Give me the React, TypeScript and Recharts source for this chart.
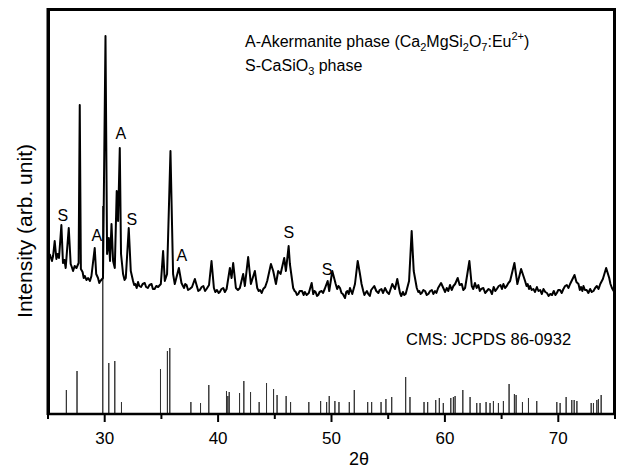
import React from "react";
import {
  ComposedChart,
  Line,
  Scatter,
  XAxis,
  YAxis,
} from "recharts";

// XRD pattern of the sample: [2θ, intensity (counts)]
const pattern: [number, number][] = [
  [25.15, 1600], [25.35, 1530], [25.45, 1580], [25.59, 1730], [25.74, 1550],
  [25.85, 1600], [25.97, 1560], [26.18, 1890], [26.32, 1510], [26.45, 1540],
  [26.56, 1460], [26.83, 1860], [27.0, 1500], [27.1, 1470], [27.21, 1430],
  [27.35, 1480], [27.51, 1460], [27.7, 1510], [27.8, 3090], [27.9, 1450],
  [28.05, 1420], [28.15, 1360], [28.24, 1380], [28.4, 1340], [28.53, 1360],
  [28.7, 1330], [28.83, 1380], [29.12, 1660], [29.25, 1400], [29.41, 1360],
  [29.52, 1310], [29.62, 1330], [29.85, 1360], [30.07, 3780], [30.21, 1600],
  [30.36, 1760], [30.47, 1530], [30.6, 1900], [30.74, 1530], [30.89, 1460],
  [31.06, 2230], [31.18, 1930], [31.33, 2660], [31.44, 1600], [31.62, 1400],
  [31.75, 1340], [31.86, 1360], [32.12, 1860], [32.3, 1430], [32.5, 1330],
  [32.6, 1290], [32.7, 1300], [32.82, 1260], [32.94, 1320], [33.05, 1280],
  [33.2, 1270], [33.35, 1300], [33.53, 1310], [33.65, 1270], [33.8, 1260],
  [33.95, 1290], [34.13, 1300], [34.25, 1250], [34.4, 1250], [34.55, 1280],
  [34.71, 1270], [34.95, 1300], [35.15, 1630], [35.3, 1330], [35.5, 1400],
  [35.8, 2630], [36.03, 1400], [36.18, 1300], [36.54, 1460], [36.77, 1310],
  [36.9, 1280], [37.0, 1260], [37.1, 1300], [37.22, 1290], [37.35, 1240],
  [37.5, 1250], [37.7, 1270], [37.95, 1350], [38.15, 1270], [38.25, 1230],
  [38.39, 1240], [38.55, 1270], [38.7, 1280], [38.85, 1230], [38.98, 1250],
  [39.2, 1290], [39.42, 1530], [39.63, 1260], [39.75, 1220], [39.9, 1240],
  [40.05, 1210], [40.15, 1220], [40.3, 1250], [40.45, 1260], [40.6, 1220],
  [40.75, 1250], [41.04, 1460], [41.19, 1360], [41.33, 1510], [41.57, 1260],
  [41.75, 1240], [41.92, 1260], [42.21, 1400], [42.36, 1280], [42.65, 1570],
  [42.89, 1300], [43.24, 1430], [43.45, 1260], [43.58, 1230], [43.7, 1240],
  [43.85, 1210], [43.98, 1250], [44.15, 1270], [44.33, 1330], [44.66, 1500],
  [44.86, 1430], [45.1, 1300], [45.3, 1430], [45.51, 1400], [45.83, 1560],
  [45.98, 1430], [46.22, 1680], [46.33, 1500], [46.62, 1260], [46.75, 1230],
  [46.85, 1220], [46.95, 1190], [47.07, 1200], [47.2, 1230], [47.4, 1230],
  [47.55, 1190], [47.65, 1220], [47.81, 1190], [48.0, 1210], [48.25, 1310],
  [48.39, 1200], [48.5, 1230], [48.6, 1220], [48.72, 1180], [48.83, 1190],
  [48.95, 1220], [49.13, 1230], [49.25, 1210], [49.4, 1250], [49.66, 1330],
  [49.8, 1230], [50.07, 1430], [50.37, 1300], [50.5, 1250], [50.62, 1280],
  [50.75, 1260], [50.88, 1210], [51.0, 1200], [51.19, 1160], [51.3, 1220],
  [51.4, 1230], [51.52, 1200], [51.63, 1260], [51.83, 1200], [52.07, 1300],
  [52.31, 1530], [52.51, 1400], [52.65, 1300], [52.8, 1230], [52.9, 1190],
  [53.0, 1210], [53.12, 1230], [53.24, 1200], [53.38, 1180], [53.5, 1240],
  [53.77, 1280], [53.95, 1230], [54.13, 1210], [54.25, 1240], [54.4, 1250],
  [54.55, 1210], [54.72, 1260], [54.9, 1220], [55.07, 1200], [55.36, 1300],
  [55.6, 1250], [55.8, 1350], [56.04, 1210], [56.15, 1180], [56.3, 1220],
  [56.42, 1190], [56.54, 1200], [56.84, 1330], [57.07, 1830], [57.25, 1430],
  [57.52, 1260], [57.65, 1220], [57.75, 1230], [57.85, 1200], [57.96, 1210],
  [58.1, 1240], [58.25, 1230], [58.4, 1190], [58.54, 1200], [58.7, 1230],
  [58.85, 1240], [58.98, 1200], [59.13, 1230], [59.25, 1210], [59.4, 1260],
  [59.66, 1310], [59.9, 1250], [60.02, 1220], [60.16, 1260], [60.3, 1230],
  [60.45, 1290], [60.6, 1240], [60.75, 1280], [60.9, 1300], [61.13, 1360],
  [61.3, 1290], [61.49, 1300], [61.62, 1240], [61.78, 1260], [62.16, 1530],
  [62.37, 1280], [62.5, 1250], [62.65, 1310], [62.8, 1260], [62.95, 1290],
  [63.08, 1230], [63.2, 1250], [63.39, 1260], [63.55, 1210], [63.7, 1230],
  [63.85, 1250], [63.99, 1240], [64.15, 1200], [64.3, 1270], [64.45, 1230],
  [64.58, 1250], [64.75, 1280], [64.9, 1290], [65.03, 1250], [65.16, 1300],
  [65.3, 1260], [65.45, 1280], [65.6, 1310], [65.75, 1330], [66.13, 1510],
  [66.39, 1300], [66.72, 1450], [67.07, 1330], [67.2, 1280], [67.3, 1300],
  [67.42, 1250], [67.52, 1280], [67.65, 1240], [67.8, 1250], [67.95, 1220],
  [68.11, 1270], [68.25, 1230], [68.4, 1240], [68.55, 1200], [68.69, 1250],
  [68.85, 1220], [69.0, 1210], [69.15, 1180], [69.28, 1200], [69.45, 1190],
  [69.6, 1230], [69.75, 1190], [69.87, 1210], [70.0, 1240], [70.15, 1240],
  [70.3, 1210], [70.45, 1250], [70.6, 1280], [70.75, 1290], [70.9, 1260],
  [71.04, 1300], [71.43, 1390], [71.6, 1320], [71.78, 1300], [71.9, 1240],
  [72.0, 1270], [72.12, 1230], [72.22, 1280], [72.35, 1240], [72.5, 1240],
  [72.65, 1210], [72.81, 1250], [72.95, 1220], [73.1, 1230], [73.25, 1260],
  [73.4, 1280], [73.55, 1250], [73.7, 1300], [73.93, 1350], [74.22, 1460],
  [74.49, 1360], [74.6, 1300], [74.73, 1260], [74.88, 1230], [75.0, 1210],
];

// Reference sticks, CMS (JCPDS 86-0932)
const cmsTheta = [
  26.62, 27.56, 29.83, 30.36, 30.89, 31.48, 34.92, 35.53, 35.74, 37.6, 38.45,
  39.18, 40.74, 40.86, 40.98, 41.89, 42.27, 42.86, 43.62, 44.27, 44.89, 45.2,
  46.0, 46.39, 48.0, 49.04, 49.57, 49.8, 50.3, 50.66, 51.57, 52.01, 53.19,
  53.54, 54.37, 54.8, 55.31, 56.54, 56.92, 58.16, 58.48, 59.19, 59.51, 59.86,
  60.52, 60.75, 60.9, 61.58, 62.22, 62.81, 63.1, 63.63, 63.98, 64.28, 64.72,
  65.16, 65.66, 66.13, 66.28, 66.84, 67.37, 68.1, 69.87, 70.16, 70.69, 71.19,
  71.4, 71.64, 72.9, 73.1, 73.4, 73.54, 73.78, 74.87,
];
const cmsIntensity = [
  240, 430, 2080, 510, 530, 120, 450, 630, 660, 120, 110,
  290, 230, 180, 220, 210, 330, 220, 120, 310, 250, 190,
  180, 120, 120, 130, 120, 180, 130, 120, 120, 240, 120,
  120, 120, 150, 170, 370, 170, 120, 120, 140, 160, 110,
  160, 170, 180, 240, 170, 110, 110, 120, 110, 130, 110,
  130, 300, 200, 190, 120, 160, 130, 120, 110, 170, 140,
  140, 130, 110, 110, 140, 150, 190, 130,
];

// Phase marks above peaks
const markTheta = [26.3, 29.3, 31.42, 32.39, 36.8, 46.24, 49.6];
const markIntensity = [1990, 1790, 2810, 1950, 1590, 1820, 1450];
const markText = ["S", "A", "A", "S", "A", "S", "S"];

const xTicks = [25, 30, 35, 40, 45, 50, 55, 60, 65, 70, 75];

const FONT = "'Liberation Sans', Arial, Helvetica, sans-serif";

const patternData = pattern.map(([x, y]) => ({ x, y }));
const stickData = cmsTheta.flatMap((x, i) => [
  { x, y: 0 },
  { x, y: cmsIntensity[i] },
  { x, y: 0 },
]);
const markData = markTheta.map((x, i) => ({ x, y: markIntensity[i], t: markText[i] }));

function AxisTick(props: any) {
  const { x, y, payload } = props;
  const v = payload.value as number;
  const major = v % 10 === 0;
  return (
    <g>
      <line x1={x} x2={x} y1={y} y2={y + (major ? 8 : 5)} stroke="#000" strokeWidth={2} />
      {major && (
        <text
          x={x}
          y={y + 18}
          dy="0.71em"
          textAnchor="middle"
          fontSize={17}
          fontFamily={FONT}
          fill="#000"
        >
          {v}
        </text>
      )}
    </g>
  );
}

function MarkLabel(props: any) {
  const { cx, cy, payload } = props;
  return (
    <text
      x={cx}
      y={cy}
      dy="0.36em"
      textAnchor="middle"
      fontSize={16}
      fontFamily={FONT}
      fill="#000"
    >
      {payload.t}
    </text>
  );
}

const frameSide = { position: "absolute" as const, background: "#000", pointerEvents: "none" as const };

export default function App() {
  return (
    <div style={{ position: "absolute", left: 0, top: 0, width: 620, height: 471, background: "#fff" }}>
      <ComposedChart
        width={620}
        height={471}
        margin={{ top: 9, right: 5, left: 48, bottom: 27 }}
      >
        <XAxis
          dataKey="x"
          type="number"
          domain={[25, 75]}
          ticks={xTicks}
          interval={0}
          tickSize={0}
          tickMargin={0}
          tickLine={false}
          tick={<AxisTick />}
          axisLine={{ stroke: "#000", strokeWidth: 2.5 }}
          height={30}
          allowDataOverflow
        />
        <YAxis
          type="number"
          domain={[0, 4050]}
          hide
          allowDataOverflow
        />
        <Line
          data={stickData}
          dataKey="y"
          type="linear"
          stroke="#333"
          strokeWidth={1}
          dot={false}
          isAnimationActive={false}
        />
        <Line
          data={patternData}
          dataKey="y"
          type="linear"
          stroke="#000"
          strokeWidth={2}
          strokeLinejoin="round"
          dot={false}
          isAnimationActive={false}
        />
        <Scatter
          data={markData}
          dataKey="y"
          shape={<MarkLabel />}
          isAnimationActive={false}
        />
      </ComposedChart>
      {/* plot frame: top, right (left drawn in the svg below) */}
      <div style={{ ...frameSide, left: 47, top: 8, width: 569, height: 3 }} />
      <div style={{ ...frameSide, left: 613, top: 8, width: 3, height: 407 }} />
      <svg
        width={620}
        height={471}
        style={{ position: "absolute", left: 0, top: 0, pointerEvents: "none" }}
        fontFamily={FONT}
        fill="#000"
      >
        <rect x={46.5} y={8} width={3.5} height={407} fill="#000" />
        <text x={245} y={47} fontSize={16}>
          A-Akermanite phase (Ca
          <tspan fontSize={11} dy={4}>2</tspan>
          <tspan dy={-4}>MgSi</tspan>
          <tspan fontSize={11} dy={4}>2</tspan>
          <tspan dy={-4}>O</tspan>
          <tspan fontSize={11} dy={4}>7</tspan>
          <tspan dy={-4}>:Eu</tspan>
          <tspan fontSize={11} dy={-7}>2+</tspan>
          <tspan dy={7}>)</tspan>
        </text>
        <text x={245} y={71} fontSize={16}>
          S-CaSiO
          <tspan fontSize={11} dy={4}>3</tspan>
          <tspan dy={-4}> phase</tspan>
        </text>
        <text x={406} y={345} fontSize={16.5}>
          CMS: JCPDS 86-0932
        </text>
        <text x={359} y={465} fontSize={18} textAnchor="middle">
          2θ
        </text>
        <text
          x={0}
          y={0}
          fontSize={21}
          textAnchor="middle"
          transform="translate(32,231) rotate(-90)"
        >
          Intensity (arb. unit)
        </text>
      </svg>
    </div>
  );
}
